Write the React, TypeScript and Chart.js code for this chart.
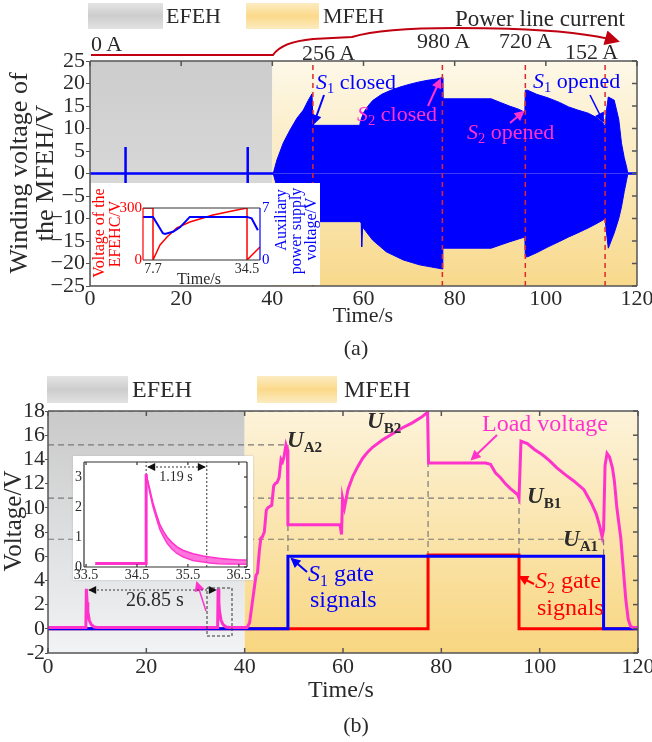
import React, { useEffect, useRef } from "react";
import { Chart, registerables } from "chart.js";
Chart.register(...registerables);

const SERIF = "'Liberation Serif', 'Times New Roman', Times, serif";
const BLUE = "#0000ff";
const MAGENTA = "#ff33cc";
const RED = "#ff0000";
const DASHRED = "#e0282c";
const PL_RED = "#c00010";
const INK = "#2a2a2a";

// ---------------- (a) winding voltage of the MFEH ----------------
const upperT = [40.2, 41, 42.4, 43.9, 45.4, 46.8, 47.9, 48.7, 48.9, 49.1, 59.2, 59.3, 60, 61, 62, 64, 66, 68, 70, 72, 74, 76, 77.3, 77.4, 88, 90, 92, 94, 95.4, 95.5, 96, 98, 100.5, 103, 105, 107, 109.3, 111, 112.5, 113, 113.3, 113.7, 115, 116, 116.6, 117.2, 117.7, 118];
const upperV = [0, 3, 6.8, 9.7, 12.3, 14.1, 16.3, 17.7, 12, 10.7, 10.7, 11.5, 13.5, 15, 16.2, 17.6, 18.5, 19.2, 19.8, 20.3, 20.7, 21, 21.3, 16.6, 16.6, 15.8, 15, 14.3, 13.6, 18.5, 18.5, 17.6, 16.8, 15.8, 14.8, 14.1, 13.4, 12.5, 11.3, 10.3, 14, 17, 16.3, 12, 6.7, 3.5, 1.5, 0];
const lowerT = [40.2, 41, 42.4, 43.9, 45.4, 46.8, 47.9, 48.7, 48.9, 49.1, 59.2, 59.5, 59.6, 59.8, 62, 65, 68.7, 72.3, 75, 77.3, 77.4, 88, 90, 92, 95.4, 95.5, 96, 98, 100.5, 103, 105, 107, 109.3, 111, 112.6, 113, 113.3, 113.7, 115, 116, 116.6, 117.2, 117.7, 118];
const lowerV = [0, -3, -6.8, -9.7, -12.3, -14.1, -16.3, -17.7, -12, -10.7, -10.7, -11, -16.3, -11.9, -14.8, -17.4, -19.2, -20.3, -20.8, -21.2, -16.6, -16.6, -15.9, -15.2, -14.1, -18.5, -18.5, -17.6, -16.3, -15.1, -14.1, -13.2, -12.1, -11.2, -10.3, -10, -13, -16.6, -13.2, -10, -7.4, -4, -1.5, 0];
const idleStartT = [0, 118];
const idleEndT = [40.2, 120];
const spikeT = [7.8, 34.6];
const spikeLow = [-4, -4];
const spikeHigh = [5.9, 5.9];
const switchT = [48.9, 77.3, 95.5, 113];
const currentLabels = ["0 A", "256 A", "980 A", "720 A", "152 A"];

// inset of (a)
const efehcT = [4.85, 7.7, 7.7, 9.7, 11.7, 14.5, 18.2, 24.8, 31.6, 34.5, 34.5, 38.2];
const efehcV = [300, 300, 0, 87, 133, 185, 219, 260, 288, 300, 0, 75];
const auxT = [4.85, 7.7, 9.1, 10.5, 11.1, 13.4, 15.4, 17.4, 18.2, 34.5, 35.8, 36.7, 37.6];
const auxV = [5.8, 5.8, 4.7, 3.6, 3.5, 3.8, 4.4, 5.4, 5.8, 5.8, 5.6, 4.8, 4.0];
const insetATicks = [7.7, 34.5];

// ---------------- (b) load voltage and gate signals ----------------
const loadT = [0, 7.7, 7.8, 7.95, 8.1, 8.4, 8.8, 9.4, 10, 34.5, 34.6, 34.75, 34.9, 35.2, 35.6, 36.2, 37, 40.5, 41, 41.5, 42, 42.3, 42.6, 43, 43.3, 43.6, 44, 44.4, 44.7, 45.1, 45.5, 45.9, 46.2, 46.6, 47, 47.4, 47.7, 48, 48.4, 48.7, 48.8, 59.4, 59.7, 59.9, 60.3, 61, 62, 63, 64, 65, 66, 68, 70, 72, 74, 76, 77.2, 77.4, 89, 90, 91, 92, 93, 94, 95.5, 95.8, 96.2, 97.5, 99, 100.5, 102, 103.5, 105, 107, 109, 110.5, 111.5, 112.2, 112.7, 113.0, 113.3, 113.7, 114.2, 114.8, 115.2, 115.7, 116.5, 117, 117.5, 118, 118.5, 119, 120];
const loadV = [0.1, 0.1, 3.3, 2.2, 1.4, 0.7, 0.35, 0.15, 0.1, 0.1, 3.3, 2.2, 1.4, 0.7, 0.35, 0.15, 0.1, 0.1, 0.5, 2.0, 3.5, 4.4, 4.6, 6.5, 7.5, 7.6, 8.0, 9.8, 10.0, 10.1, 10.2, 11.8, 12.0, 12.1, 12.5, 14.0, 13.8, 14.2, 15.2, 14.8, 8.6, 8.6, 7.8, 10.8, 10.0, 11.5, 12.6, 13.4, 14.1, 14.6, 15.0, 15.6, 16.1, 16.6, 17.0, 17.5, 17.9, 13.7, 13.7, 13.6, 12.9, 12.5, 12.0, 11.6, 11.1, 10.8, 15.5, 15.3, 14.8, 14.4, 13.9, 13.3, 12.8, 12.2, 11.5, 10.4, 9.5, 8.5, 7.6, 8.2, 13.5, 14.5, 14.2, 13.3, 12.2, 10.0, 7.5, 5.0, 2.5, 0.8, 0.2, 0.1, 0.1];
const s1T = [0, 48.8, 48.8, 113, 113, 120];
const s1V = [0, 0, 6, 6, 0, 0];
const s2T = [0, 77.3, 77.3, 95.8, 95.8, 120];
const s2V = [0, 0, 6.1, 6.1, 0, 0];
const markT = [48.8, 77.3, 95.8, 113];
const markV = [15.2, 18, 10.8, 7.4];
const gateLevel = 6;

// inset of (b)
const flatT = [33.68, 34.68, 34.68];
const flatV = [0.12, 0.12, 3.1];
const decayT = [34.68, 34.75, 34.81, 34.88, 34.95, 35.02, 35.09, 35.18, 35.28, 35.4, 35.6, 35.8, 35.93, 36.1, 36.3, 36.46, 36.65];
const decayUpper = [3.1, 2.6, 2.16, 1.77, 1.41, 1.19, 1.0, 0.83, 0.68, 0.56, 0.44, 0.37, 0.33, 0.29, 0.26, 0.24, 0.23];
const decayLower = [3.1, 2.5, 2.04, 1.63, 1.25, 1.01, 0.8, 0.61, 0.46, 0.34, 0.22, 0.17, 0.13, 0.11, 0.1, 0.1, 0.09];
const dottedT = [34.68, 35.87];
const insetBTicks = [33.5, 34.5, 35.5, 36.5];
const insetBYTicks = [0, 1, 2, 3];

// ---------------- helpers ----------------
const pts = (t: number[], v: number[]) => t.map((x, i) => ({ x, y: v[i] }));
const segs = (t0: number[], t1: number[], v0: number[], v1: number[]) => {
  const out: any[] = [];
  t0.forEach((t, i) => {
    out.push({ x: t, y: v0[i] }, { x: t1[i], y: v1[i] }, { x: t1[i], y: null });
  });
  return out;
};
const fill = (n: number, v: number) => Array.from({ length: n }, () => v);

function bgPlugin(regions: { from: number; to: number; top: string; bottom: string }[]) {
  return {
    id: "bgRegions",
    beforeDatasetsDraw(chart: any) {
      const { ctx, chartArea: a, scales } = chart;
      const x = scales.x;
      ctx.save();
      for (const r of regions) {
        const g = ctx.createLinearGradient(0, a.top, 0, a.bottom);
        g.addColorStop(0, r.top);
        g.addColorStop(1, r.bottom);
        ctx.fillStyle = g;
        const x0 = x.getPixelForValue(r.from);
        const x1 = x.getPixelForValue(r.to);
        ctx.fillRect(x0, a.top, x1 - x0, a.bottom - a.top);
      }
      ctx.restore();
    },
  };
}

function framePlugin(o: any) {
  return {
    id: "frameTicks",
    afterDatasetsDraw(chart: any) {
      const { ctx, chartArea: a, scales } = chart;
      const x = scales.x;
      const yr = scales[o.rightScale || "y"];
      ctx.save();
      ctx.lineWidth = o.width;
      const line = (x0: number, y0: number, x1: number, y1: number, c: string) => {
        ctx.strokeStyle = c;
        ctx.beginPath();
        ctx.moveTo(x0, y0);
        ctx.lineTo(x1, y1);
        ctx.stroke();
      };
      const L = o.tick;
      for (const t of x.ticks) {
        const px = x.getPixelForValue(t.value);
        if (o.top) line(px, a.top, px, a.top + L, o.color);
        if (o.bottom) line(px, a.bottom, px, a.bottom - L, o.color);
      }
      if (o.right) {
        for (const t of yr.ticks) {
          const py = yr.getPixelForValue(t.value);
          line(a.right, py, a.right - L, py, o.rightColor || o.color);
        }
      }
      line(a.left, a.top, a.right, a.top, o.color);
      line(a.left, a.bottom, a.right, a.bottom, o.color);
      line(a.left, a.top, a.left, a.bottom, o.leftColor || o.color);
      line(a.right, a.top, a.right, a.bottom, o.rightColor || o.color);
      ctx.restore();
    },
  };
}

const baseOptions = (padding: any) => ({
  animation: false,
  responsive: false,
  maintainAspectRatio: false,
  events: [],
  layout: { padding },
  plugins: { legend: { display: false }, tooltip: { enabled: false } },
  elements: { point: { radius: 0 }, line: { tension: 0 } },
});

const lineDs = (data: any[], color: string, width: number, extra: any = {}) => ({
  data,
  borderColor: color,
  borderWidth: width,
  pointRadius: 0,
  fill: false,
  spanGaps: false,
  ...extra,
});

// ---------------- text helpers ----------------
function Label(p: {
  x: number; y: number; size: number; color?: string; center?: boolean; rotate?: boolean;
  bold?: boolean; italic?: boolean; children: React.ReactNode;
}) {
  const tr = p.rotate
    ? "translate(-50%,-50%) rotate(-90deg)"
    : p.center ? "translate(-50%,-50%)" : "translate(0,-50%)";
  return (
    <div
      style={{
        position: "absolute", left: p.x, top: p.y, fontFamily: SERIF, fontSize: p.size,
        color: p.color || INK, lineHeight: 1, whiteSpace: "nowrap", transform: tr,
        fontWeight: p.bold ? 700 : 400, fontStyle: p.italic ? "italic" : "normal",
        textAlign: "center",
      }}
    >
      {p.children}
    </div>
  );
}
const Sub = ({ c, bold }: { c: string; bold?: boolean }) => (
  <span style={{ fontSize: "0.66em", verticalAlign: "-0.3em", fontStyle: "normal", fontWeight: bold ? 700 : 400 }}>{c}</span>
);
const SName = ({ n }: { n: string }) => (
  <span><i>S</i><Sub c={n} /></span>
);
const ULabel = ({ x, y, sub }: { x: number; y: number; sub: string }) => (
  <Label x={x} y={y} size={23} bold>
    <i>U</i><Sub c={sub} bold />
  </Label>
);

export default function App() {
  const refA = useRef<HTMLCanvasElement>(null);
  const refAI = useRef<HTMLCanvasElement>(null);
  const refB = useRef<HTMLCanvasElement>(null);
  const refBI = useRef<HTMLCanvasElement>(null);

  useEffect(() => {
    const charts: Chart[] = [];
    const tickFont = (size: number) => ({ family: SERIF, size });

    // ----- chart (a) -----
    charts.push(
      new Chart(refA.current as HTMLCanvasElement, {
        type: "line",
        data: {
          datasets: [
            lineDs(segs(switchT, switchT, fill(4, -25), fill(4, 25)), DASHRED, 1.5, { borderDash: [5, 4] }),
            lineDs(segs(spikeT, spikeT, spikeLow, spikeHigh), BLUE, 2.5),
            lineDs(segs(idleStartT, idleEndT, fill(2, 0), fill(2, 0)), BLUE, 2.5),
            lineDs(pts(upperT, upperV), BLUE, 1, { fill: "origin", backgroundColor: BLUE }),
            lineDs(pts(lowerT, lowerV), BLUE, 1, { fill: "origin", backgroundColor: BLUE }),
          ],
        },
        options: {
          ...baseOptions({ left: 0, right: 15, top: 61, bottom: 14 }),
          scales: {
            x: {
              type: "linear", min: 0, max: 120,
              ticks: { stepSize: 20, padding: 0, font: tickFont(22), color: INK, maxRotation: 0, autoSkip: false },
              grid: { display: false, drawTicks: false }, border: { display: false },
              afterFit: (s: any) => { s.height = 30; s.paddingLeft = 0; s.paddingRight = 0; },
            },
            y: {
              type: "linear", min: -25, max: 25,
              ticks: {
                stepSize: 5, padding: 1, font: tickFont(22), color: INK, autoSkip: false,
                callback: (v: any) => (v < 0 ? "\u2212" + Math.abs(v) : String(v)),
              },
              grid: { drawOnChartArea: false, tickLength: 4, color: "#555" }, border: { display: false },
              afterFit: (s: any) => { s.width = 90; s.paddingTop = 0; s.paddingBottom = 0; },
            },
          },
        } as any,
        plugins: [
          bgPlugin([
            { from: 0, to: 40, top: "#cdcdcd", bottom: "#e0e0e0" },
            { from: 40, to: 120, top: "#fdf8e8", bottom: "#f8d98c" },
          ]),
          framePlugin({ color: "#555", width: 1.5, tick: 5, top: true, bottom: false, right: true }),
        ],
      } as any)
    );

    // ----- inset of (a) -----
    charts.push(
      new Chart(refAI.current as HTMLCanvasElement, {
        type: "line",
        data: {
          datasets: [
            lineDs(pts(auxT, auxV), BLUE, 2, { yAxisID: "y1" }),
            lineDs(pts(efehcT, efehcV), RED, 1.5, { yAxisID: "y" }),
          ],
        },
        options: {
          ...baseOptions({ left: 0, right: 0, top: 25, bottom: 0 }),
          scales: {
            x: {
              type: "linear", min: 4.85, max: 38.2,
              afterBuildTicks: (s: any) => { s.ticks = insetATicks.map((v) => ({ value: v })); },
              ticks: { padding: 1, font: tickFont(14), color: INK, maxRotation: 0, autoSkip: false, callback: (v: any) => String(v) },
              grid: { display: false, drawTicks: false }, border: { display: false },
              afterFit: (s: any) => { s.height = 25; s.paddingLeft = 0; s.paddingRight = 0; },
            },
            y: {
              type: "linear", position: "left", min: 0, max: 300,
              afterBuildTicks: (s: any) => { s.ticks = [{ value: 0 }, { value: 300 }]; },
              ticks: { padding: 1, font: tickFont(15), color: RED, autoSkip: false },
              grid: { display: false, drawTicks: false }, border: { display: false },
              afterFit: (s: any) => { s.width = 52; s.paddingTop = 0; s.paddingBottom = 0; },
            },
            y1: {
              type: "linear", position: "right", min: 0, max: 7,
              afterBuildTicks: (s: any) => { s.ticks = [{ value: 0 }, { value: 7 }]; },
              ticks: { padding: 2, font: tickFont(15), color: BLUE, autoSkip: false },
              grid: { display: false, drawTicks: false }, border: { display: false },
              afterFit: (s: any) => { s.width = 60; s.paddingTop = 0; s.paddingBottom = 0; },
            },
          },
        } as any,
        plugins: [framePlugin({ color: "#333", width: 1.2, tick: 0, leftColor: RED, rightColor: BLUE })],
      } as any)
    );

    // ----- chart (b) -----
    const guides = [
      ...segs(fill(4, 0), markT, markV, markV),
      ...segs(markT, markT, markV, fill(4, gateLevel)),
    ];
    charts.push(
      new Chart(refB.current as HTMLCanvasElement, {
        type: "line",
        data: {
          datasets: [
            lineDs(pts(loadT, loadV), MAGENTA, 3),
            lineDs(pts(s1T, s1V), BLUE, 3),
            lineDs(pts(s2T, s2V), RED, 3),
            lineDs(guides, "#7a7a7a", 1.2, { borderDash: [6, 4] }),
          ],
        },
        options: {
          ...baseOptions({ left: 0, right: 14, top: 51, bottom: 17 }),
          scales: {
            x: {
              type: "linear", min: 0, max: 120,
              ticks: { stepSize: 20, padding: 1, font: tickFont(22), color: INK, maxRotation: 0, autoSkip: false },
              grid: { display: false, drawTicks: false }, border: { display: false },
              afterFit: (s: any) => { s.height = 30; s.paddingLeft = 0; s.paddingRight = 0; },
            },
            y: {
              type: "linear", min: -2, max: 18,
              ticks: { stepSize: 2, padding: 0, font: tickFont(22), color: INK, autoSkip: false },
              grid: { drawOnChartArea: false, tickLength: 3, color: "#555" }, border: { display: false },
              afterFit: (s: any) => { s.width = 48; s.paddingTop = 0; s.paddingBottom = 0; },
            },
          },
        } as any,
        plugins: [
          bgPlugin([
            { from: 0, to: 40, top: "#c9c9c9", bottom: "#f1f3f5" },
            { from: 40, to: 120, top: "#fdf3da", bottom: "#f8d680" },
          ]),
          framePlugin({ color: "#555", width: 1.5, tick: 5, top: true, bottom: true, right: true }),
        ],
      } as any)
    );

    // ----- inset of (b) -----
    charts.push(
      new Chart(refBI.current as HTMLCanvasElement, {
        type: "line",
        data: {
          datasets: [
            lineDs(pts(decayT, decayUpper), MAGENTA, 1.5, { fill: "+1", backgroundColor: "rgba(255,70,210,0.75)" }),
            lineDs(pts(decayT, decayLower), MAGENTA, 1.5),
            lineDs(pts(flatT, flatV), MAGENTA, 3),
            lineDs(segs(dottedT, dottedT, fill(2, 0), fill(2, 3.5)), "#333", 1, { borderDash: [2, 2] }),
          ],
        },
        options: {
          ...baseOptions({ left: 0, right: 6, top: 6, bottom: 0 }),
          scales: {
            x: {
              type: "linear", min: 33.46, max: 36.66,
              afterBuildTicks: (s: any) => { s.ticks = insetBTicks.map((v) => ({ value: v })); },
              ticks: { padding: 0, font: tickFont(14), color: INK, maxRotation: 0, autoSkip: false, callback: (v: any) => Number(v).toFixed(1) },
              grid: { display: false, drawTicks: false }, border: { display: false },
              afterFit: (s: any) => { s.height = 13; s.paddingLeft = 0; s.paddingRight = 0; },
            },
            y: {
              type: "linear", min: 0, max: 3.5,
              afterBuildTicks: (s: any) => { s.ticks = insetBYTicks.map((v) => ({ value: v })); },
              ticks: { padding: 2, font: tickFont(14), color: INK, autoSkip: false },
              grid: { display: false, drawTicks: false }, border: { display: false },
              afterFit: (s: any) => { s.width = 11; s.paddingTop = 0; s.paddingBottom = 0; },
            },
          },
        } as any,
        plugins: [framePlugin({ color: "#333", width: 1.2, tick: 3, top: true, bottom: true, right: true })],
      } as any)
    );

    return () => charts.forEach((c) => c.destroy());
  }, []);

  const grayBox = "linear-gradient(to bottom, #e4e4e4, #cdcdcd 50%, #e2e2e2)";
  const goldBox = "linear-gradient(to bottom, #fcecc2, #fbd98a 50%, #fcebbf)";
  const abs = (l: number, t: number, w: number, h: number, extra: any = {}) => ({
    position: "absolute" as const, left: l, top: t, width: w, height: h, ...extra,
  });

  return (
    <div style={abs(0, 0, 652, 742, { background: "#fff", overflow: "hidden", fontFamily: SERIF })}>
      {/* legend boxes */}
      <div style={abs(88, 3, 75, 26, { background: grayBox })} />
      <div style={abs(246, 3, 73, 26, { background: goldBox })} />
      <div style={abs(47, 376, 81, 27, { background: grayBox })} />
      <div style={abs(257, 376, 80, 27, { background: goldBox })} />

      <canvas ref={refA} width={652} height={330} style={abs(0, 0, 652, 330)} />
      <canvas ref={refAI} width={229} height={102} style={abs(91, 183, 229, 102, { background: "#fff" })} />
      <canvas ref={refB} width={652} height={340} style={abs(0, 360, 652, 340)} />
      <canvas
        ref={refBI}
        width={180}
        height={124}
        style={abs(73, 456, 180, 124, { background: "#fff", boxShadow: "0 0 2px #bbb" })}
      />

      <svg width={652} height={742} style={abs(0, 0, 652, 742, { pointerEvents: "none" })}>
        <defs>
          <marker id="hPL" viewBox="0 0 10 10" refX="8" refY="5" markerUnits="userSpaceOnUse" markerWidth="18" markerHeight="15" orient="auto">
            <path d="M0,0 L10,5 L0,10 z" fill={PL_RED} />
          </marker>
          <marker id="hB" viewBox="0 0 10 10" refX="8" refY="5" markerUnits="userSpaceOnUse" markerWidth="11" markerHeight="10" orient="auto">
            <path d="M0,0 L10,5 L0,10 z" fill={BLUE} />
          </marker>
          <marker id="hM" viewBox="0 0 10 10" refX="8" refY="5" markerUnits="userSpaceOnUse" markerWidth="11" markerHeight="10" orient="auto">
            <path d="M0,0 L10,5 L0,10 z" fill={MAGENTA} />
          </marker>
          <marker id="hR" viewBox="0 0 10 10" refX="8" refY="5" markerUnits="userSpaceOnUse" markerWidth="11" markerHeight="10" orient="auto">
            <path d="M0,0 L10,5 L0,10 z" fill={RED} />
          </marker>
          <marker id="hK" viewBox="0 0 10 10" refX="9" refY="5" markerUnits="userSpaceOnUse" markerWidth="9" markerHeight="8" orient="auto-start-reverse">
            <path d="M0,0 L10,5 L0,10 z" fill="#111" />
          </marker>
        </defs>
        {/* power line current */}
        <path
          d="M91,55 H273 C279,46 292,41 313,39 L352,37 C372,31 405,28 455,28 C530,28 585,32 617,41"
          stroke={PL_RED} strokeWidth={2} fill="none" markerEnd="url(#hPL)"
        />
        {/* (a) annotation arrows */}
        <line x1={324} y1={95} x2={314} y2={123} stroke={BLUE} strokeWidth={2} markerEnd="url(#hB)" />
        <line x1={428} y1={106} x2={440} y2={80} stroke={MAGENTA} strokeWidth={2} markerEnd="url(#hM)" />
        <line x1={510} y1={123} x2={523} y2={112} stroke={MAGENTA} strokeWidth={2} markerEnd="url(#hM)" />
        <line x1={590} y1={95} x2={603} y2={121} stroke={BLUE} strokeWidth={1.5} markerEnd="url(#hB)" />
        {/* (b) annotation arrows */}
        <line x1={307} y1={572} x2={292} y2={559} stroke={BLUE} strokeWidth={2} markerEnd="url(#hB)" />
        <line x1={534} y1={584} x2={520} y2={577} stroke={RED} strokeWidth={2} markerEnd="url(#hR)" />
        <line x1={497} y1={435} x2={472} y2={459} stroke={MAGENTA} strokeWidth={2} markerEnd="url(#hM)" />
        <line x1={206} y1={611} x2={197} y2={583} stroke={MAGENTA} strokeWidth={1.5} markerEnd="url(#hM)" />
        <line x1={89} y1={590} x2={216} y2={590} stroke="#333" strokeWidth={1} strokeDasharray="2,2" markerStart="url(#hK)" markerEnd="url(#hK)" />
        <line x1={148} y1={467} x2={205} y2={467} stroke="#333" strokeWidth={1} strokeDasharray="2,2" markerStart="url(#hK)" markerEnd="url(#hK)" />
        <rect x={207} y={588} width={25} height={48} fill="none" stroke="#333" strokeWidth={1} strokeDasharray="3,2" />
      </svg>

      {/* ---------- (a) texts ---------- */}
      <Label x={166} y={16} size={22}>EFEH</Label>
      <Label x={323} y={16} size={22}>MFEH</Label>
      <Label x={455} y={18} size={23}>Power line current</Label>
      <Label x={91} y={44} size={22}>{currentLabels[0]}</Label>
      <Label x={302} y={53} size={22}>{currentLabels[1]}</Label>
      <Label x={417} y={41} size={22}>{currentLabels[2]}</Label>
      <Label x={499} y={41} size={22}>{currentLabels[3]}</Label>
      <Label x={565} y={52} size={22}>{currentLabels[4]}</Label>
      <Label x={316} y={83} size={22} color={BLUE}><SName n="1" /> closed</Label>
      <Label x={357} y={115} size={22} color={MAGENTA}><SName n="2" /> closed</Label>
      <Label x={467} y={133} size={22} color={MAGENTA}><SName n="2" /> opened</Label>
      <Label x={533} y={82} size={22} color={BLUE}><SName n="1" /> opened</Label>
      <Label x={19} y={173} size={26} rotate>Winding voltage of</Label>
      <Label x={45} y={173} size={26} rotate>the MFEH/V</Label>
      <Label x={363} y={315} size={22} center>Time/s</Label>
      <Label x={356} y={348} size={22} center>(a)</Label>
      {/* inset (a) titles */}
      <Label x={99} y={233} size={16} color={RED} rotate>Voltage of the</Label>
      <Label x={115} y={234} size={16} color={RED} rotate>EFEHC/V</Label>
      <Label x={281} y={220} size={16} color={BLUE} rotate>Auxiliary</Label>
      <Label x={296} y={231} size={16} color={BLUE} rotate>power supply</Label>
      <Label x={311} y={229} size={16} color={BLUE} rotate>voltage/V</Label>
      <Label x={199} y={279} size={16} center>Time/s</Label>

      {/* ---------- (b) texts ---------- */}
      <Label x={132} y={389} size={24}>EFEH</Label>
      <Label x={344} y={389} size={24}>MFEH</Label>
      <Label x={12} y={521} size={25} rotate>Voltage/V</Label>
      <Label x={341} y={689} size={24} center>Time/s</Label>
      <Label x={356} y={725} size={22} center>(b)</Label>
      <ULabel x={287} y={441} sub="A2" />
      <ULabel x={367} y={422} sub="B2" />
      <ULabel x={527} y={497} sub="B1" />
      <ULabel x={563} y={540} sub="A1" />
      <Label x={482} y={423} size={24} color={MAGENTA}>Load voltage</Label>
      <Label x={308} y={575} size={24} color={BLUE}><SName n="1" /> gate</Label>
      <Label x={310} y={599} size={24} color={BLUE}>signals</Label>
      <Label x={535} y={582} size={24} color={RED}><SName n="2" /> gate</Label>
      <Label x={537} y={607} size={24} color={RED}>signals</Label>
      <Label x={155} y={599} size={20} center>26.85 s</Label>
      <Label x={176} y={477} size={14} center>1.19 s</Label>
    </div>
  );
}
